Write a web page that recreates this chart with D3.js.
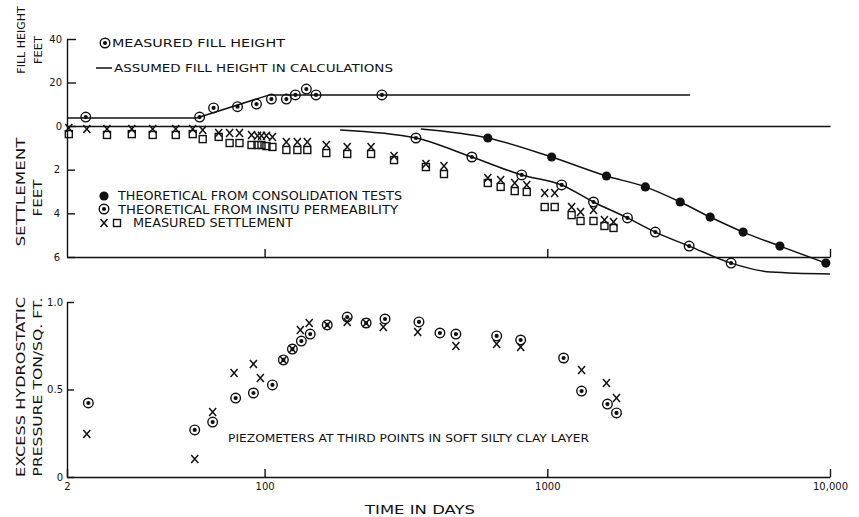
<!DOCTYPE html>
<html>
<head>
<meta charset="utf-8">
<script src="https://cdnjs.cloudflare.com/ajax/libs/d3/7.8.5/d3.min.js"></script>
<style>
  body { margin: 0; background: #fff; }
  svg { font-family: "DejaVu Sans", sans-serif; }
  .axis path, .axis line { stroke: #111; stroke-width: 1.4; }
  .axis text { font-size: 10px; fill: #111; font-family: "DejaVu Sans", sans-serif; }
  .curve { fill: none; stroke: #111; stroke-width: 1.5; }
</style>
</head>
<body>
<svg id="chart" width="859" height="517"></svg>
<script>
// x = time in days
var xTickVals = [20, 100, 1000, 10000];
var xTickLabels = ["2", "100", "1000", "10,000"];

// fill height, feet
var measuredFill = [[23.3, 4.1], [58.9, 4.1], [66, 8.3], [80.2, 8.9], [93.6, 10.1], [105.7, 12.4],
  [119.4, 12.4], [128.5, 14.3], [140.5, 17.0], [152, 14.3], [260, 14.3]];
var assumedFill = [[20, 3.7], [57.5, 3.7], [104, 14.3], [3200, 14.3]];

// settlement, feet
var settleX = [[20.3, 0.09], [23.5, 0.14], [27.7, 0.14], [33.9, 0.14], [40.2, 0.14], [48.5, 0.14],
  [55.7, 0.14], [60.4, 0.18], [68.8, 0.32], [75.2, 0.32], [81.5, 0.32], [89.9, 0.41], [94.4, 0.45],
  [97.5, 0.45], [101.5, 0.45], [106.6, 0.5], [119.4, 0.73], [130.6, 0.73], [141.6, 0.73], [165.3, 0.87],
  [196, 0.96], [238, 0.96], [287, 1.37], [372, 1.74], [431, 1.83], [616, 2.38], [684, 2.47], [767, 2.61],
  [846, 2.7], [979, 3.07], [1062, 3.07], [1219, 3.71], [1311, 3.94], [1457, 3.85], [1593, 4.31], [1715, 4.4]];
var settleSq = [[20.3, 0.37], [27.7, 0.41], [33.9, 0.37], [40.2, 0.41], [48.5, 0.41], [55.7, 0.37],
  [60.4, 0.6], [68.8, 0.5], [75.2, 0.78], [81.5, 0.78], [89.9, 0.87], [94.4, 0.87], [97.5, 0.87],
  [101.5, 0.92], [106.6, 0.96], [119.4, 1.1], [130.6, 1.1], [141.6, 1.1], [165.3, 1.24], [196, 1.28],
  [238, 1.28], [287, 1.56], [372, 1.88], [431, 2.2], [616, 2.61], [684, 2.79], [767, 2.98], [846, 3.02],
  [979, 3.71], [1062, 3.71], [1219, 4.08], [1311, 4.35], [1457, 4.35], [1593, 4.58], [1715, 4.67]];

var consolPts = [[616, 0.55], [1036, 1.42], [1619, 2.29], [2223, 2.79], [2952, 3.48], [3767, 4.17],
  [4928, 4.86], [6650, 5.5], [9667, 6.28]];
var consolCurve = [[357, 0.14], [616, 0.55], [1036, 1.42], [1619, 2.29], [2223, 2.79], [2952, 3.48],
  [3767, 4.17], [4928, 4.86], [6650, 5.5], [9667, 6.28]];
var insituPts = [[343, 0.55], [541, 1.42], [812, 2.24], [1124, 2.7], [1457, 3.48], [1921, 4.21],
  [2410, 4.86], [3175, 5.5], [4468, 6.28]];
var insituCurve = [[185, 0.18], [343, 0.55], [541, 1.42], [812, 2.24], [1124, 2.7], [1457, 3.48],
  [1921, 4.21], [2410, 4.86], [3175, 5.5], [4468, 6.28], [6181, 6.69], [10000, 6.78]];

// excess hydrostatic pressure, ton/sq.ft.
var presCirc = [[23.8, 0.423], [56.6, 0.269], [65.5, 0.314], [79, 0.451], [91.3, 0.48], [106.6, 0.526],
  [116.5, 0.669], [125.4, 0.731], [134.9, 0.777], [145, 0.817], [166.6, 0.869], [196, 0.914],
  [228.6, 0.88], [266.7, 0.903], [351.6, 0.886], [417, 0.823], [475, 0.817], [662, 0.806], [805, 0.783],
  [1142, 0.68], [1322, 0.491], [1632, 0.417], [1757, 0.366]];
var presX = [[23.5, 0.246], [56.6, 0.103], [65.5, 0.371], [78, 0.594], [91.3, 0.646], [96.6, 0.566],
  [116.5, 0.669], [125.4, 0.731], [133.8, 0.84], [143.8, 0.88], [166.6, 0.869], [196, 0.886],
  [228.6, 0.88], [263, 0.857], [348, 0.829], [475, 0.749], [662, 0.76], [805, 0.743], [1322, 0.611],
  [1619, 0.537], [1757, 0.451]];

var svg = d3.select("#chart");

var x = d3.scaleLog().domain([20, 10000]).range([67, 830]);
var yFill = d3.scaleLinear().domain([0, 40]).range([126, 39]);
var ySet = d3.scaleLinear().domain([0, 6]).range([126, 257]);
var yPres = d3.scaleLinear().domain([0, 1]).range([477, 302]);

// axes
svg.append("g").attr("class", "axis").attr("transform", "translate(67,0)")
  .call(d3.axisLeft(yFill).tickValues([0, 20, 40]).tickSizeInner(-9).tickSizeOuter(0).tickPadding(5)
    .tickFormat(d3.format("d")));
svg.append("g").attr("class", "axis").attr("transform", "translate(67,0)")
  .call(d3.axisLeft(ySet).tickValues([2, 4, 6]).tickSizeInner(-8).tickSizeOuter(0).tickPadding(7)
    .tickFormat(d3.format("d")));
svg.append("g").attr("class", "axis").attr("transform", "translate(0,126)")
  .call(d3.axisBottom(x).tickValues([]).tickSizeOuter(0));
svg.append("g").attr("class", "axis").attr("transform", "translate(0,257)")
  .call(d3.axisBottom(x).tickValues([100, 1000, 10000]).tickSizeInner(-8).tickSizeOuter(0).tickFormat(""));
svg.append("g").attr("class", "axis").attr("transform", "translate(67,0)")
  .call(d3.axisLeft(yPres).tickValues([0, 0.5, 1]).tickSizeInner(-7).tickSizeOuter(0).tickPadding(4)
    .tickFormat(function(d) { return d === 0 ? "0" : d3.format(".1f")(d); }));
svg.append("g").attr("class", "axis").attr("transform", "translate(0,477)")
  .call(d3.axisBottom(x).tickValues(xTickVals).tickSizeInner(-8).tickSizeOuter(0).tickPadding(6)
    .tickFormat(function(d, i) { return xTickLabels[i]; }));

// lines
var fillLine = d3.line().x(function(d) { return x(d[0]); }).y(function(d) { return yFill(d[1]); });
var setLine = d3.line().curve(d3.curveMonotoneX)
  .x(function(d) { return x(d[0]); }).y(function(d) { return ySet(d[1]); });

svg.append("path").attr("class", "curve").attr("d", fillLine(assumedFill));
svg.append("path").attr("class", "curve").attr("d", setLine(consolCurve));
svg.append("path").attr("class", "curve").attr("d", setLine(insituCurve));

// markers
function circDot(g, cx, cy) {
  g.append("circle").attr("cx", cx).attr("cy", cy).attr("r", 4.8)
    .attr("fill", "none").attr("stroke", "#111").attr("stroke-width", 1.4);
  g.append("circle").attr("cx", cx).attr("cy", cy).attr("r", 2.1).attr("fill", "#111");
}
function dot(g, cx, cy) {
  g.append("circle").attr("cx", cx).attr("cy", cy).attr("r", 4.6).attr("fill", "#111");
}
function cross(g, cx, cy) {
  g.append("path").attr("d", "M" + (cx - 3.5) + "," + (cy - 4) + "L" + (cx + 3.5) + "," + (cy + 4) +
    "M" + (cx + 3.5) + "," + (cy - 4) + "L" + (cx - 3.5) + "," + (cy + 4))
    .attr("stroke", "#111").attr("stroke-width", 1.5).attr("fill", "none");
}
function square(g, cx, cy) {
  g.append("rect").attr("x", cx - 3.5).attr("y", cy - 3.5).attr("width", 7).attr("height", 7)
    .attr("fill", "none").attr("stroke", "#111").attr("stroke-width", 1.4);
}

var marks = svg.append("g");
measuredFill.forEach(function(d) { circDot(marks, x(d[0]), yFill(d[1])); });
settleSq.forEach(function(d) { square(marks, x(d[0]), ySet(d[1])); });
settleX.forEach(function(d) { cross(marks, x(d[0]), ySet(d[1])); });
consolPts.forEach(function(d) { dot(marks, x(d[0]), ySet(d[1])); });
insituPts.forEach(function(d) { circDot(marks, x(d[0]), ySet(d[1])); });
presX.forEach(function(d) { cross(marks, x(d[0]), yPres(d[1])); });
presCirc.forEach(function(d) { circDot(marks, x(d[0]), yPres(d[1])); });

// text
function label(str, px, py, size, len, rot) {
  var t = svg.append("text").text(str)
    .attr("font-size", size).attr("fill", "#111");
  if (len) t.attr("textLength", len).attr("lengthAdjust", "spacingAndGlyphs");
  if (rot) {
    t.attr("text-anchor", "middle").attr("transform", "translate(" + px + "," + py + ") rotate(-90)");
  } else {
    t.attr("x", px).attr("y", py);
  }
  return t;
}

label("FILL HEIGHT", 25, 40, 11, null, true);
label("FEET", 42, 50, 11, 28, true);
label("SETTLEMENT", 25, 192, 13, 109, true);
label("FEET", 42, 198, 13, 37, true);
label("EXCESS HYDROSTATIC", 25, 387, 13, 180, true);
label("PRESSURE TON/SQ. FT.", 42, 387, 13, 179, true);

circDot(svg, 105, 43);
label("MEASURED FILL HEIGHT", 112, 47, 10, 173);
svg.append("line").attr("x1", 96).attr("x2", 112).attr("y1", 68).attr("y2", 68)
  .attr("stroke", "#111").attr("stroke-width", 1.5);
label("ASSUMED FILL HEIGHT IN CALCULATIONS", 114, 72, 10, 279);

dot(svg, 104, 196);
label("THEORETICAL FROM CONSOLIDATION TESTS", 118, 200, 11.5, 284);
circDot(svg, 104, 209);
label("THEORETICAL FROM INSITU PERMEABILITY", 118, 214, 11.5, 280);
cross(svg, 104, 223);
square(svg, 117, 223);
label("MEASURED SETTLEMENT", 133, 227, 11.5, 160);

label("PIEZOMETERS AT THIRD POINTS  IN SOFT SILTY CLAY LAYER", 228, 442, 11, 361);
label("TIME  IN  DAYS", 365, 514, 13, 110);
</script>
</body>
</html>
